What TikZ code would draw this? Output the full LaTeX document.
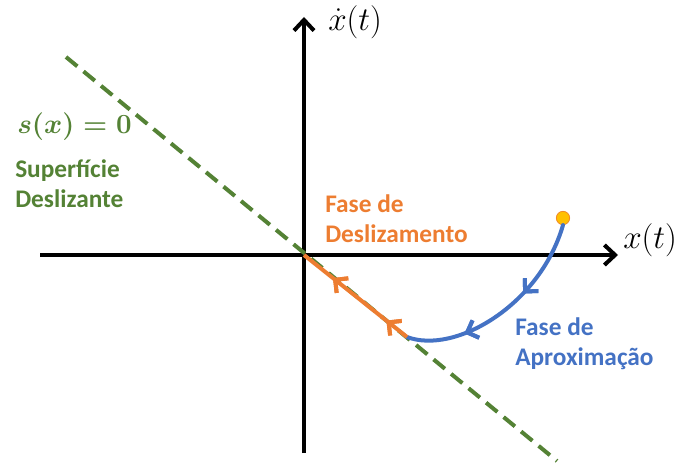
\documentclass[tikz,border=0pt]{standalone}
\usepackage{amsmath,amssymb}
\usepackage{fontspec}
\setmainfont{Carlito}
\usepackage{tikz}
\usetikzlibrary{arrows.meta,decorations.markings}

\definecolor{slgreen}{HTML}{548235}
\definecolor{sdorange}{HTML}{ED7D31}
\definecolor{apblue}{HTML}{4472C4}
\definecolor{dotyel}{HTML}{FFC000}

\begin{document}
\begin{tikzpicture}[
  x=0.75pt, y=-0.75pt,
  axis/.style={draw, line width=3pt, -{Straight Barb[length=8pt,width=15pt]}},
  surf/.style={draw=slgreen, line width=3pt, dash pattern=on 11pt off 6pt},
  lbl/.style={font=\fontsize{19}{22.5}\selectfont\bfseries, align=left,
              inner sep=0pt, anchor=base west},
  mlbl/.style={font=\fontsize{25}{28}\selectfont, inner sep=0pt, anchor=base west},
  mid/.style={postaction={decorate}, decoration={markings,
      mark=at position #1 with {\arrow{Straight Barb[length=7pt,width=14pt]}}}},
]
\useasboundingbox (0,0) rectangle (682,463);
% axes
\coordinate (o)  at (304,255);
\coordinate (xl) at (40,255);
\coordinate (xr) at (618,255);
\coordinate (yb) at (304,453);
\coordinate (yt) at (304,17);
\draw[axis] (xl) -- (xr);
\draw[axis] (yb) -- (yt);
\node[mlbl] (xlab) at (623,249) {$x(t)$};
\node[mlbl] (ylab) at (328,31) {$\dot{x}(t)$};
% sliding surface
\coordinate (s1) at (66,57);
\coordinate (s2) at (557,461);
\draw[surf] (s1) -- (s2);
\node[lbl, text=slgreen, font=\fontsize{20}{22}\selectfont\boldmath] (sx) at (17,134)
  {$s(x)=0$};
\node[lbl, text=slgreen] (sup) at (15,208) {Superfície\\Deslizante};
% reaching phase
\coordinate (j) at (407,337);
\node[circle, fill=dotyel, draw=sdorange!80!dotyel, line width=0.6pt,
      inner sep=0pt, minimum size=10pt] (x0) at (563,218) {};
\draw[apblue, line width=3pt, line cap=round, mid=0.38, mid=0.72]
  (x0.south) .. controls (540,305) and (455,355) .. (j);
\node[lbl, text=apblue] (ap) at (515,365) {Fase de\\Aproximação};
% sliding phase
\draw[sdorange, line width=3pt, mid=0.2, mid=0.72] (j) -- (o);
\node[lbl, text=sdorange] (sd) at (325,243) {Fase de\\Deslizamento};
\end{tikzpicture}
\end{document}
